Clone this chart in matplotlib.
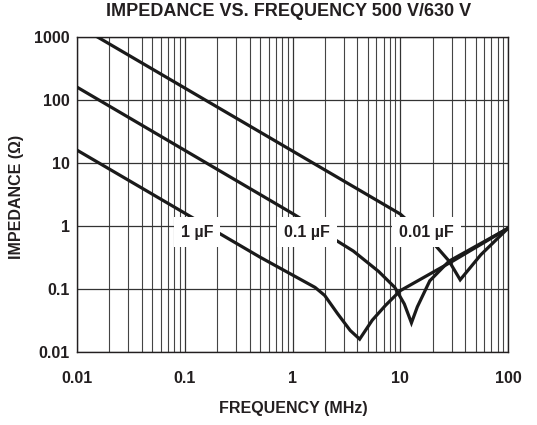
import matplotlib
matplotlib.use("Agg")
import matplotlib.pyplot as plt
from matplotlib.ticker import FixedLocator, NullFormatter, FixedFormatter
import numpy as np

# ---- data ----
freq_1uF = [0.01, 0.5, 1.62, 1.99, 2.61, 3.43, 4.2, 5.5, 7.3, 10.0, 31.0, 100.0]
imp_1uF = [16.0, 0.32, 0.106, 0.079, 0.041, 0.022, 0.016, 0.032, 0.055, 0.094, 0.28, 0.92]

freq_01uF = [0.01, 1.0, 2.36, 3.67, 6.3, 8.9, 10.9, 12.7, 14.4, 18.8, 28.4, 100.0]
imp_01uF = [160.0, 1.58, 0.64, 0.40, 0.19, 0.106, 0.058, 0.029, 0.052, 0.135, 0.277, 0.92]

freq_001uF = [0.0155, 10.0, 20.9, 28.4, 36.0, 56.0, 100.0]
imp_001uF = [1000.0, 1.55, 0.505, 0.277, 0.14, 0.35, 0.92]

curve_labels = ["1 µF", "0.1 µF", "0.01 µF"]
label_freq = [0.13, 1.36, 17.6]
label_imp = [0.8, 0.8, 0.8]

x_ticks = [0.01, 0.1, 1, 10, 100]
x_ticklabels = ["0.01", "0.1", "1", "10", "100"]
y_ticks = [0.01, 0.1, 1, 10, 100, 1000]
y_ticklabels = ["0.01", "0.1", "1", "10", "100", "1000"]

title = "IMPEDANCE VS. FREQUENCY 500 V/630 V"
xlabel = "FREQUENCY (MHz)"
ylabel = "IMPEDANCE (Ω)"

# ---- style ----
plt.rcParams['font.family'] = ['Liberation Sans', 'DejaVu Sans']
TXT = '#231f20'
W, H = 537, 425
fig = plt.figure(figsize=(W / 100, H / 100), dpi=100)
ax = fig.add_axes([77 / W, 1 - 352 / H, (508 - 77) / W, (352 - 37) / H])

ax.set_xscale('log')
ax.set_yscale('log')
ax.set_xlim(0.01, 100)
ax.set_ylim(0.01, 1000)

# grid
minor_x = [m * 10.0 ** e for e in range(-2, 2) for m in range(2, 10)]
ax.xaxis.set_major_locator(FixedLocator(x_ticks))
ax.xaxis.set_major_formatter(FixedFormatter(x_ticklabels))
ax.xaxis.set_minor_locator(FixedLocator(minor_x))
ax.xaxis.set_minor_formatter(NullFormatter())
ax.yaxis.set_major_locator(FixedLocator(y_ticks))
ax.yaxis.set_major_formatter(FixedFormatter(y_ticklabels))
ax.yaxis.set_minor_locator(FixedLocator([]))

ax.grid(True, which='major', axis='both', color='#333333', lw=0.9, zorder=1)
ax.grid(True, which='minor', axis='x', color='#444444', lw=0.8, zorder=1)
ax.set_axisbelow(True)
for s in ax.spines.values():
    s.set_color('#231f20')
    s.set_linewidth(1.0)

ax.tick_params(which='both', length=0)
ax.tick_params(axis='x', pad=14, labelsize=11.5, labelcolor=TXT)
ax.tick_params(axis='y', pad=5, labelsize=11.5, labelcolor=TXT)
for lab in ax.get_xticklabels() + ax.get_yticklabels():
    lab.set_fontweight('bold')

# curves
for f, z in [(freq_1uF, imp_1uF), (freq_01uF, imp_01uF), (freq_001uF, imp_001uF)]:
    ax.plot(f, z, color='#1a1a1a', lw=2.3, solid_joinstyle='miter', zorder=3)

# labels with white boxes
for t, fx, zy in zip(curve_labels, label_freq, label_imp):
    ax.text(fx, zy, t, ha='center', va='center', fontsize=11.5, fontweight='bold',
            color=TXT, zorder=5,
            bbox=dict(boxstyle='square,pad=0.45', facecolor='white', edgecolor='none'))

fig.text(289 / W, 1 - 12 / H, title, ha='center', va='center', fontsize=13,
         fontweight='bold', color=TXT)
fig.text(293 / W, 1 - 409 / H, xlabel, ha='center', va='center', fontsize=11.5,
         fontweight='bold', color=TXT)
fig.text(17 / W, 1 - 197 / H, ylabel, ha='center', va='center', fontsize=11.5,
         fontweight='bold', color=TXT, rotation=90)

fig.savefig('out.png', dpi=100)
